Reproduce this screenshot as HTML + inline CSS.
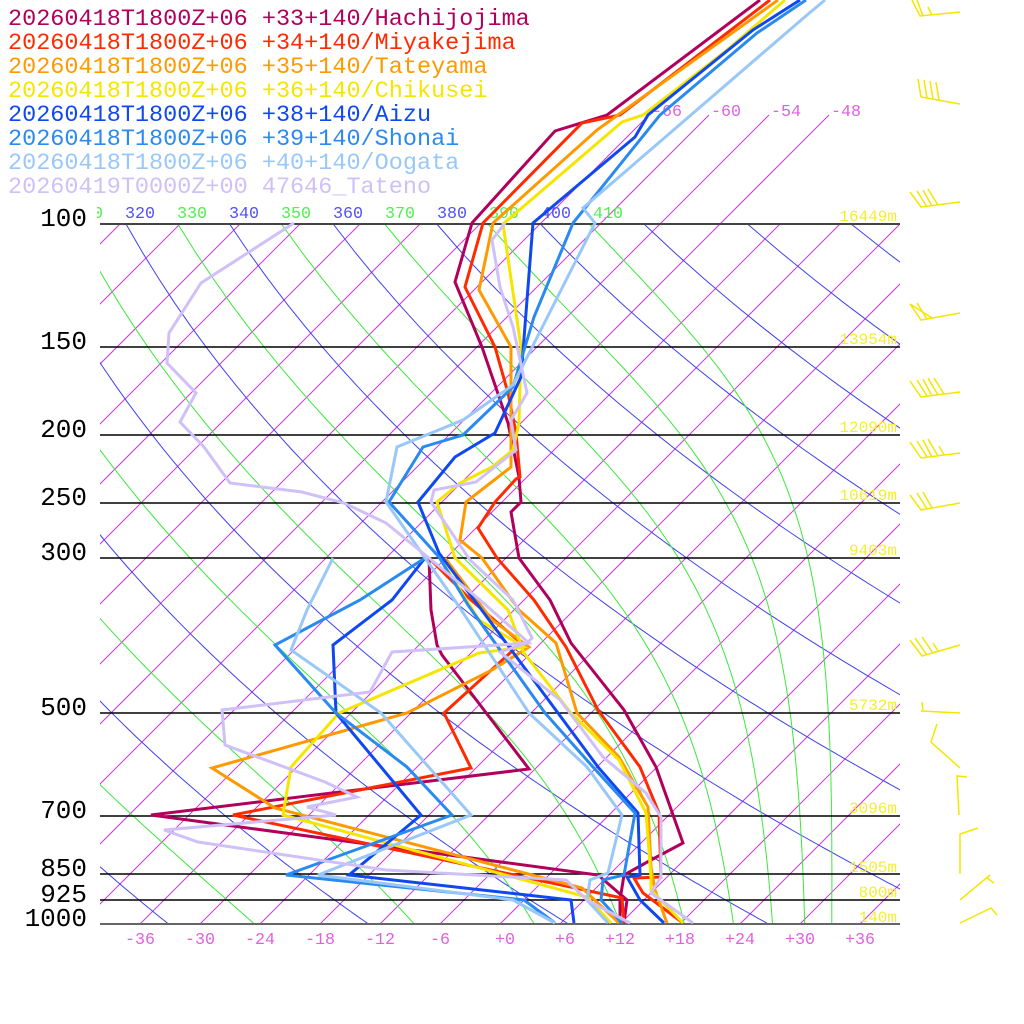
<!DOCTYPE html>
<html><head><meta charset="utf-8"><style>
html,body{margin:0;padding:0;background:#fff;}
svg{display:block;}
text{font-family:"Liberation Mono","DejaVu Sans Mono",monospace;}
</style></head><body>
<svg id="s" width="1024" height="1024" viewBox="0 0 1024 1024" xmlns="http://www.w3.org/2000/svg">
<defs>
<clipPath id="pc"><rect x="100" y="224" width="800" height="700"/></clipPath>
<clipPath id="lc"><rect x="97" y="190" width="803" height="40"/></clipPath>
<clipPath id="tc"><rect x="100" y="100" width="800" height="130"/></clipPath>
</defs>
<rect width="1024" height="1024" fill="#fff"/>
<g id="grid" clip-path="url(#pc)" fill="none"></g>
<g id="ext" clip-path="url(#tc)" fill="none" stroke="#c83cd8" stroke-width="1"></g>
<g stroke="#000" stroke-width="1.5">
<line x1="100" y1="224" x2="900" y2="224" stroke="#444" stroke-width="2"/>
<line x1="100" y1="347" x2="900" y2="347"/>
<line x1="100" y1="435" x2="900" y2="435"/>
<line x1="100" y1="503" x2="900" y2="503"/>
<line x1="100" y1="558" x2="900" y2="558"/>
<line x1="100" y1="713" x2="900" y2="713"/>
<line x1="100" y1="816" x2="900" y2="816"/>
<line x1="100" y1="874" x2="900" y2="874"/>
<line x1="100" y1="900" x2="900" y2="900"/>
<line x1="100" y1="924" x2="900" y2="924" stroke="#666" stroke-width="2"/>
</g>
<g font-size="16.7" clip-path="url(#lc)">
<text x="73" y="218" fill="#50f050">310</text>
<text x="125" y="218" fill="#5050ff">320</text>
<text x="177" y="218" fill="#50f050">330</text>
<text x="229" y="218" fill="#5050ff">340</text>
<text x="281" y="218" fill="#50f050">350</text>
<text x="333" y="218" fill="#5050ff">360</text>
<text x="385" y="218" fill="#50f050">370</text>
<text x="437" y="218" fill="#5050ff">380</text>
<text x="489" y="218" fill="#50f050">390</text>
<text x="541" y="218" fill="#5050ff">400</text>
<text x="593" y="218" fill="#50f050">410</text>
</g>
<g font-size="16.7" fill="#e060e0">
<text x="652" y="116">-66</text><text x="711" y="116">-60</text><text x="771" y="116">-54</text><text x="831" y="116">-48</text>
</g>
<g font-size="16.7" fill="#e060e0" text-anchor="middle">
<text x="140" y="944">-36</text><text x="200" y="944">-30</text><text x="260" y="944">-24</text><text x="320" y="944">-18</text><text x="380" y="944">-12</text><text x="440" y="944">-6</text><text x="505" y="944">+0</text><text x="565" y="944">+6</text><text x="620" y="944">+12</text><text x="680" y="944">+18</text><text x="740" y="944">+24</text><text x="800" y="944">+30</text><text x="860" y="944">+36</text>
</g>
<g font-size="16" fill="#f5ee30" text-anchor="end">
<text x="897" y="221">16449m</text><text x="897" y="344">13954m</text><text x="897" y="432">12090m</text><text x="897" y="500">10619m</text><text x="897" y="555">9403m</text><text x="897" y="710">5732m</text><text x="897" y="813">3096m</text><text x="897" y="872">1505m</text><text x="897" y="897">800m</text><text x="897" y="922">140m</text>
</g>
<g font-size="26" fill="#000" text-anchor="end">
<text x="87" y="226">100</text><text x="87" y="349">150</text><text x="87" y="437">200</text><text x="87" y="505">250</text><text x="87" y="560">300</text><text x="87" y="715">500</text><text x="87" y="818">700</text><text x="87" y="876">850</text><text x="87" y="902">925</text><text x="87" y="926">1000</text>
</g>
<g fill="none" stroke-width="3" stroke-linejoin="miter">
<polyline stroke="#b0005c" points="760,0 607,115 555,131 472,223 455,282 482,347 508,423 519,477 521,502 511,512 519,558 550,600 571,643 624,710 656,767 683,843 651,860 624,875 620,900 620,923"/>
<polyline stroke="#b0005c" points="429,558 431,610 437,645 442,655 529,769 151,815 598,875 627,900 624,923"/>
<polyline stroke="#ff2a00" points="770,0 620,115 582,123 483,223 465,287 495,347 508,393 516,433 520,477 516,479 495,502 478,528 497,558 534,600 566,647 598,710 640,767 659,813 661,877 634,878 643,893 683,923"/>
<polyline stroke="#ff2a00" points="429,558 471,600 521,643 444,713 471,768 233,815 622,898 624,923"/>
<polyline stroke="#ff9900" points="778,0 597,130 493,223 479,290 511,347 511,467 466,502 460,540 482,558 519,610 556,643 577,713 619,757 648,807 651,867 655,890 667,923"/>
<polyline stroke="#ff9900" points="445,558 492,620 529,647 492,670 407,713 212,768 275,808 582,888 619,923"/>
<polyline stroke="#f5e600" points="785,0 727,50 643,115 622,122 503,224 521,347 519,423 513,450 492,467 460,483 437,502 455,558 508,610 524,653 571,713 619,760 646,813 651,877 651,890 683,923"/>
<polyline stroke="#f5e600" points="440,558 479,620 524,647 479,653 339,713 291,767 283,815 587,897 611,923"/>
<polyline stroke="#1048f0" points="800,0 753,30 648,115 635,137 533,223 521,377 495,433 455,457 418,502 439,553 478,605 598,767 638,813 640,875 627,877 640,900 664,923"/>
<polyline stroke="#1048f0" points="425,558 392,600 333,645 336,713 421,815 349,875 571,900 574,923"/>
<polyline stroke="#2a8af0" points="806,0 757,33 660,115 573,223 534,317 513,387 463,435 423,447 389,502 439,557 468,605 545,713 593,767 635,813 624,875 603,880 601,900 622,923"/>
<polyline stroke="#2a8af0" points="425,558 360,600 275,645 336,713 407,767 452,815 286,875 524,900 555,923"/>
<polyline stroke="#99c8f8" points="825,0 807,15 583,208 595,223 556,300 513,385 463,420 397,447 386,502 458,605 529,713 587,767 622,815 608,873 590,880 587,900 608,923"/>
<polyline stroke="#99c8f8" points="333,558 307,610 291,650 381,713 471,815 318,875 513,900 555,923"/>
<polyline stroke="#d0c0f8" points="505,223 492,240 500,287 513,327 527,393 511,420 516,450 476,482 434,490 431,502 470,560 513,600 532,638 527,643 500,652 560,700 603,757 646,793 661,817 661,877 651,893 693,923"/>
<polyline stroke="#d0c0f8" points="294,223 201,283 169,333 167,363 196,393 180,422 204,447 230,483 302,492 344,503 386,523 429,558 480,600 529,643 392,652 370,692 222,710 225,745 325,782 357,797 307,807 336,815 164,830 198,842 386,870 566,880 587,900 630,923"/>
</g>
<g font-size="23.5">
<text x="8" y="25" fill="#b0005c">20260418T1800Z+06 +33+140/Hachijojima</text>
<text x="8" y="49" fill="#ff2a00">20260418T1800Z+06 +34+140/Miyakejima</text>
<text x="8" y="73" fill="#ff9900">20260418T1800Z+06 +35+140/Tateyama</text>
<text x="8" y="97" fill="#f5e600">20260418T1800Z+06 +36+140/Chikusei</text>
<text x="8" y="121" fill="#1048f0">20260418T1800Z+06 +38+140/Aizu</text>
<text x="8" y="145" fill="#2a8af0">20260418T1800Z+06 +39+140/Shonai</text>
<text x="8" y="169" fill="#99c8f8">20260418T1800Z+06 +40+140/Oogata</text>
<text x="8" y="193" fill="#d0c0f8">20260419T0000Z+00 47646_Tateno</text>
</g>
<g fill="none" stroke="#f5e600" stroke-width="1.5">
<path d="M960,12 L920,16 L912,0 M923,16 L917,0 M932,15 L928,7"/>
<path d="M960,104 L921,97 L918,79 M927,98 L924,80 M933,99 L930,81 M939,100 L936,82"/>
<path d="M960,202 L921,207 L910,192 M927,207 L917,191 M932,206 L923,190 M938,205 L928,189"/>
<path d="M960,313 L921,320 L910,304 M927,319 L917,303 M910,304 L932,318"/>
<path d="M960,392 L921,397 L910,381 M927,396 L917,380 M932,396 L923,379 M938,395 L928,378 M944,394 L934,378"/>
<path d="M960,453 L921,458 L910,442 M927,457 L917,441 M932,457 L923,440 M938,456 L928,439 M944,455 L939,446"/>
<path d="M960,503 L921,510 L910,495 M927,509 L917,493 M932,508 L923,492"/>
<path d="M960,645 L922,656 L910,640 M927,655 L915,638 M933,653 L922,637 M938,651 L933,643"/>
<path d="M960,713 L921,711 M923,711 L922,702"/>
<path d="M937,724 L931,742 L960,768"/>
<path d="M959,815 L957,776 L967,777"/>
<path d="M960,874 L960,834 L978,828"/>
<path d="M960,900 L990,875 M987,878 L994,883"/>
<path d="M960,923 L991,908 L997,915"/>
</g>
<script>
(function(){
var NS="http://www.w3.org/2000/svg";
var g=document.getElementById("grid"), ex=document.getElementById("ext");
function Y(p){return 924-700*Math.log10(1000/p);}
function X(tc,y){return 500+10*tc+(924-y);}
function add(par,d,c,w){var e=document.createElementNS(NS,"path");e.setAttribute("d",d);e.setAttribute("stroke",c);e.setAttribute("stroke-width",w||1);e.setAttribute("fill","none");par.appendChild(e);}
for(var T=-180;T<=48;T+=6){var x1=500+10*T;add(g,"M"+x1+",924 L"+(x1+700)+",224","#c83cd8",1);}
[-66,-60,-54,-48].forEach(function(T){var x1=500+10*T+700;add(ex,"M"+x1+",224 L"+(x1+109)+",115","#c83cd8",1);});
for(var th=160;th<=500;th+=20){var d="";for(var p=1000;p>=100;p-=10){var y=Y(p);var tk=th*Math.pow(p/1000,0.2857);d+=(d?"L":"M")+X(tk-273.15,y).toFixed(1)+","+y.toFixed(1)+" ";}add(g,d,"#4040ee",1);}
function es(tc){return 6.112*Math.exp(17.67*tc/(tc+243.5));}
function the(tk,p){var tc=tk-273.15;var e=es(tc);var r=0.622*e/(p-e);return tk*Math.pow(1000/p,0.2857)*Math.exp(2.69e6*r/(1004*tk));}
for(var te=170;te<=410;te+=20){var d="";for(var p=1000;p>=100;p-=10){var lo=150,hi=330;for(var i=0;i<50;i++){var m=(lo+hi)/2;if(the(m,p)>te)hi=m;else lo=m;}var y=Y(p);d+=(d?"L":"M")+X(lo-273.15,y).toFixed(1)+","+y.toFixed(1)+" ";}add(g,d,"#3ce83c",1);}
})();
</script>
</svg>
</body></html>
